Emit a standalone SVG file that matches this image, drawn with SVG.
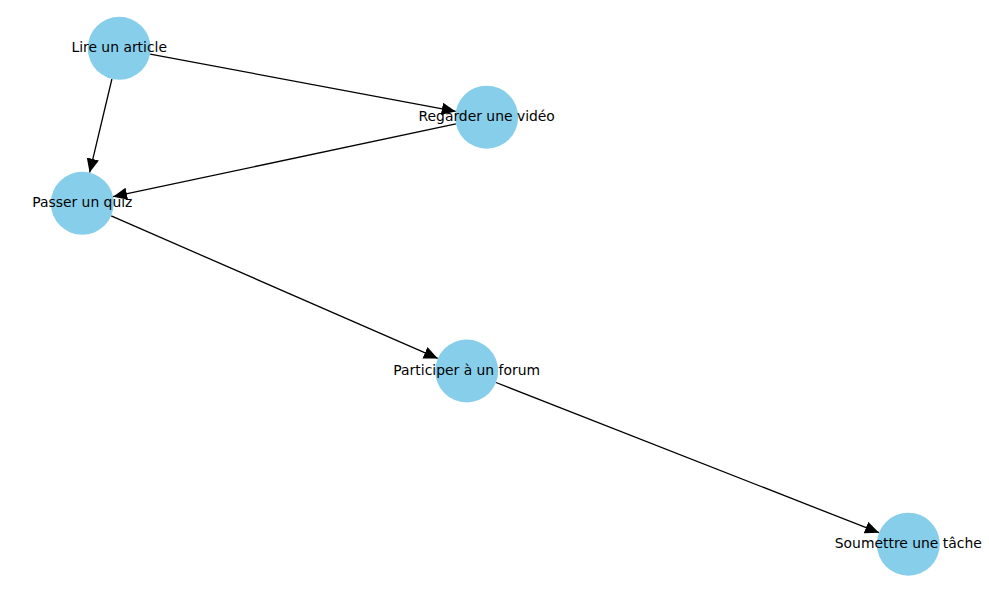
<svg xmlns="http://www.w3.org/2000/svg" width="989" height="590" viewBox="0 0 989 590">
<style>
.node circle{fill:#87CEEB;}
.node text{font-family:"DejaVu Sans",sans-serif;font-size:13.9px;fill:#000;text-anchor:middle;}
.edges line{stroke:#000;stroke-width:1.3;marker-end:url(#ah);}
</style>
<defs>
<marker id="ah" markerUnits="userSpaceOnUse" markerWidth="15" markerHeight="13" refX="14" refY="6.2" orient="auto">
<path d="M0,0 L14,6.2 L0,12.4 z" fill="#000"/>
</marker>
</defs>
<rect width="989" height="590" fill="#fff"/>
<g id="edges" class="edges">
<line x1="150.2" y1="54.1" x2="455.7" y2="111.4"/>
<line x1="111.9" y1="79" x2="89.6" y2="172.6"/>
<line x1="455.9" y1="123.8" x2="113.1" y2="196.7"/>
<line x1="111.2" y1="215.9" x2="437.8" y2="358.4"/>
<line x1="496" y1="382.5" x2="879" y2="532.7"/>
</g>
<g id="lire" class="node"><circle cx="119.2" cy="48.3" r="31.5"/><text x="119.2" y="52.3">Lire un article</text></g>
<g id="regarder" class="node"><circle cx="486.7" cy="117.2" r="31.5"/><text x="486.7" y="121.2">Regarder une vidéo</text></g>
<g id="passer" class="node"><circle cx="82.3" cy="203.3" r="31.5"/><text x="82.3" y="207.3">Passer un quiz</text></g>
<g id="participer" class="node"><circle cx="466.7" cy="371" r="31.5"/><text x="466.7" y="375">Participer à un forum</text></g>
<g id="soumettre" class="node"><circle cx="908.3" cy="544.2" r="31.5"/><text x="908.3" y="548.2">Soumettre une tâche</text></g>
</svg>
